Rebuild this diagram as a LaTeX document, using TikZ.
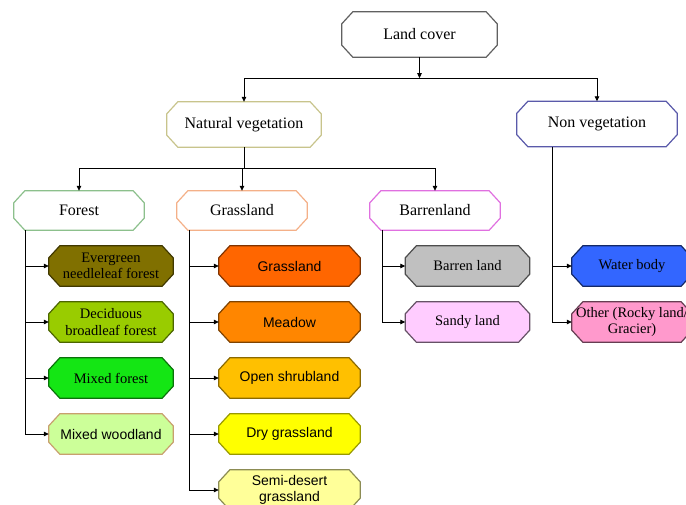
\documentclass[tikz,border=0pt]{standalone}
\usepackage{fontspec}
\setmainfont{Liberation Serif}
\newfontfamily\arialf{Liberation Sans}
\usetikzlibrary{arrows.meta,calc,backgrounds}
\definecolor{cLand}{RGB}{96,96,96}
\definecolor{cNat}{RGB}{200,196,140}
\definecolor{cNon}{RGB}{90,90,170}
\definecolor{cFor}{RGB}{140,192,140}
\definecolor{cGra}{RGB}{244,176,136}
\definecolor{cBar}{RGB}{224,112,224}
\definecolor{fEv}{RGB}{128,112,0}
\definecolor{fDe}{RGB}{153,204,0}
\definecolor{fMf}{RGB}{20,230,20}
\definecolor{fMw}{RGB}{204,255,153}
\definecolor{bMw}{RGB}{200,160,110}
\definecolor{fG1}{RGB}{255,102,0}
\definecolor{fG2}{RGB}{255,134,0}
\definecolor{fG3}{RGB}{255,192,0}
\definecolor{fG4}{RGB}{255,255,0}
\definecolor{fG5}{RGB}{255,255,153}
\definecolor{fBl}{RGB}{192,192,192}
\definecolor{fSl}{RGB}{255,204,255}
\definecolor{fWb}{RGB}{51,102,255}
\definecolor{fOt}{RGB}{255,153,204}
\tikzset{
  box/.style={rectangle, draw=none, inner sep=0pt, align=center, font=\fontsize{16}{18}\selectfont},
  hdr/.style={box, minimum width=130pt, minimum height=39pt},
  kid/.style={box, minimum height=40pt, font=\fontsize{14.5}{16.5}\selectfont},
  kids/.style={box, minimum height=40pt, font=\arialf\fontsize{14}{16.5}\selectfont},
  arr/.style={-{Triangle[length=5pt,width=4.5pt]}, line width=0.8pt, black},
  ln/.style={line width=0.8pt, black},
  oct/.style={line width=1.2pt},
}
\newcommand{\octo}[3]{%
  \filldraw[oct, draw=#3, fill=#2]
   ($(#1.north west)+(11pt,0pt)$) -- ($(#1.north east)+(-11pt,0pt)$) --
   ($(#1.north east)+(0pt,-12pt)$) -- ($(#1.south east)+(0pt,12pt)$) --
   ($(#1.south east)+(-11pt,0pt)$) -- ($(#1.south west)+(11pt,0pt)$) --
   ($(#1.south west)+(0pt,12pt)$) -- ($(#1.north west)+(0pt,-12pt)$) -- cycle;}
\begin{document}
\begin{tikzpicture}[x=1pt,y=-1pt]
\useasboundingbox (0,0) rectangle (686,504);
% top levels
\node[box, minimum width=155pt, minimum height=45pt] (lc) at (419.5,34.5) {Land cover};
\node[box, minimum width=154pt, minimum height=45pt] (nv) at (244,124.5) {Natural vegetation};
\node[box, minimum width=160pt, minimum height=45pt] (nonv) at (597,124) {Non vegetation};
\node[hdr] (forest) at (79,210.5) {Forest};
\node[hdr] (grass) at (242,210.5) {Grassland};
\node[hdr] (barren) at (435,210.5) {Barrenland};
% forest kids
\node[kid, minimum width=124pt] (ev) at (111,266) {Evergreen\\needleleaf forest};
\node[kid, minimum width=124pt] (de) at (111,322) {Deciduous\\broadleaf forest};
\node[kid, minimum width=124pt] (mf) at (111,378) {Mixed forest};
\node[kids, minimum width=124pt] (mw) at (111,434) {Mixed woodland};
% grass kids
\node[kids, minimum width=141pt] (g1) at (289.5,266) {Grassland};
\node[kids, minimum width=141pt] (g2) at (289.5,322) {Meadow};
\node[kids, minimum width=141pt] (g3) at (289.5,378) {Open shrubland};
\node[kids, minimum width=141pt] (g4) at (289.5,434) {Dry grassland};
\node[kids, minimum width=141pt] (g5) at (289.5,490) {Semi-desert\\grassland};
% barren kids
\node[kid, minimum width=124pt] (bl) at (467.5,266) {Barren land};
\node[kid, minimum width=124pt] (sl) at (467.5,322) {Sandy land};
% non veg kids
\node[kid, minimum width=120pt] (wb) at (632,266) {Water body};
\node[kid, minimum width=120pt] (ot) at (632,322) {Other (Rocky land/\\Gracier)};
\begin{pgfonlayer}{background}
\octo{lc}{white}{cLand}
\octo{nv}{white}{cNat}
\octo{nonv}{white}{cNon}
\octo{forest}{white}{cFor}
\octo{grass}{white}{cGra}
\octo{barren}{white}{cBar}
\octo{ev}{fEv}{fEv!50!black}
\octo{de}{fDe}{fDe!50!black}
\octo{mf}{fMf}{fMf!50!black}
\octo{mw}{fMw}{bMw}
\octo{g1}{fG1}{fG1!50!black}
\octo{g2}{fG2}{fG2!50!black}
\octo{g3}{fG3}{fG3!55!black}
\octo{g4}{fG4}{fG4!60!black}
\octo{g5}{fG5}{fG5!55!black}
\octo{bl}{fBl}{fBl!40!black}
\octo{sl}{fSl}{fSl!40!black}
\octo{wb}{fWb}{fWb!40!black}
\octo{ot}{fOt}{fOt!40!black}
\end{pgfonlayer}
% connectors
\coordinate (j1) at ($(lc.south)+(0pt,-21pt)$);
\draw[arr] (lc.south) -- (j1);
\draw[arr] (j1) -| (nv.north);
\draw[arr] (j1) -| (nonv.north);
\coordinate (j2) at ($(nv.south)+(0pt,-21pt)$);
\draw[ln] (nv.south) -- (j2);
\draw[arr] (j2) -| (forest.north);
\draw[arr] (j2) -| (grass.north);
\draw[arr] (j2) -| (barren.north);
\coordinate (ft) at ($(forest.south west)+(12pt,0pt)$);
\draw[arr] (ft) |- (mw.west);
\foreach \k in {ev,de,mf} \draw[arr] (ft |- \k.west) -- (\k.west);
\coordinate (gt) at ($(grass.south west)+(13pt,0pt)$);
\draw[arr] (gt) |- (g5.west);
\foreach \k in {g1,g2,g3,g4} \draw[arr] (gt |- \k.west) -- (\k.west);
\coordinate (bt) at ($(barren.south west)+(13pt,0pt)$);
\draw[arr] (bt) |- (sl.west);
\draw[arr] (bt |- bl.west) -- (bl.west);
\coordinate (nt) at ($(nonv.south west)+(36pt,0pt)$);
\draw[arr] (nt) |- (ot.west);
\draw[arr] (nt |- wb.west) -- (wb.west);
\end{tikzpicture}
\end{document}
